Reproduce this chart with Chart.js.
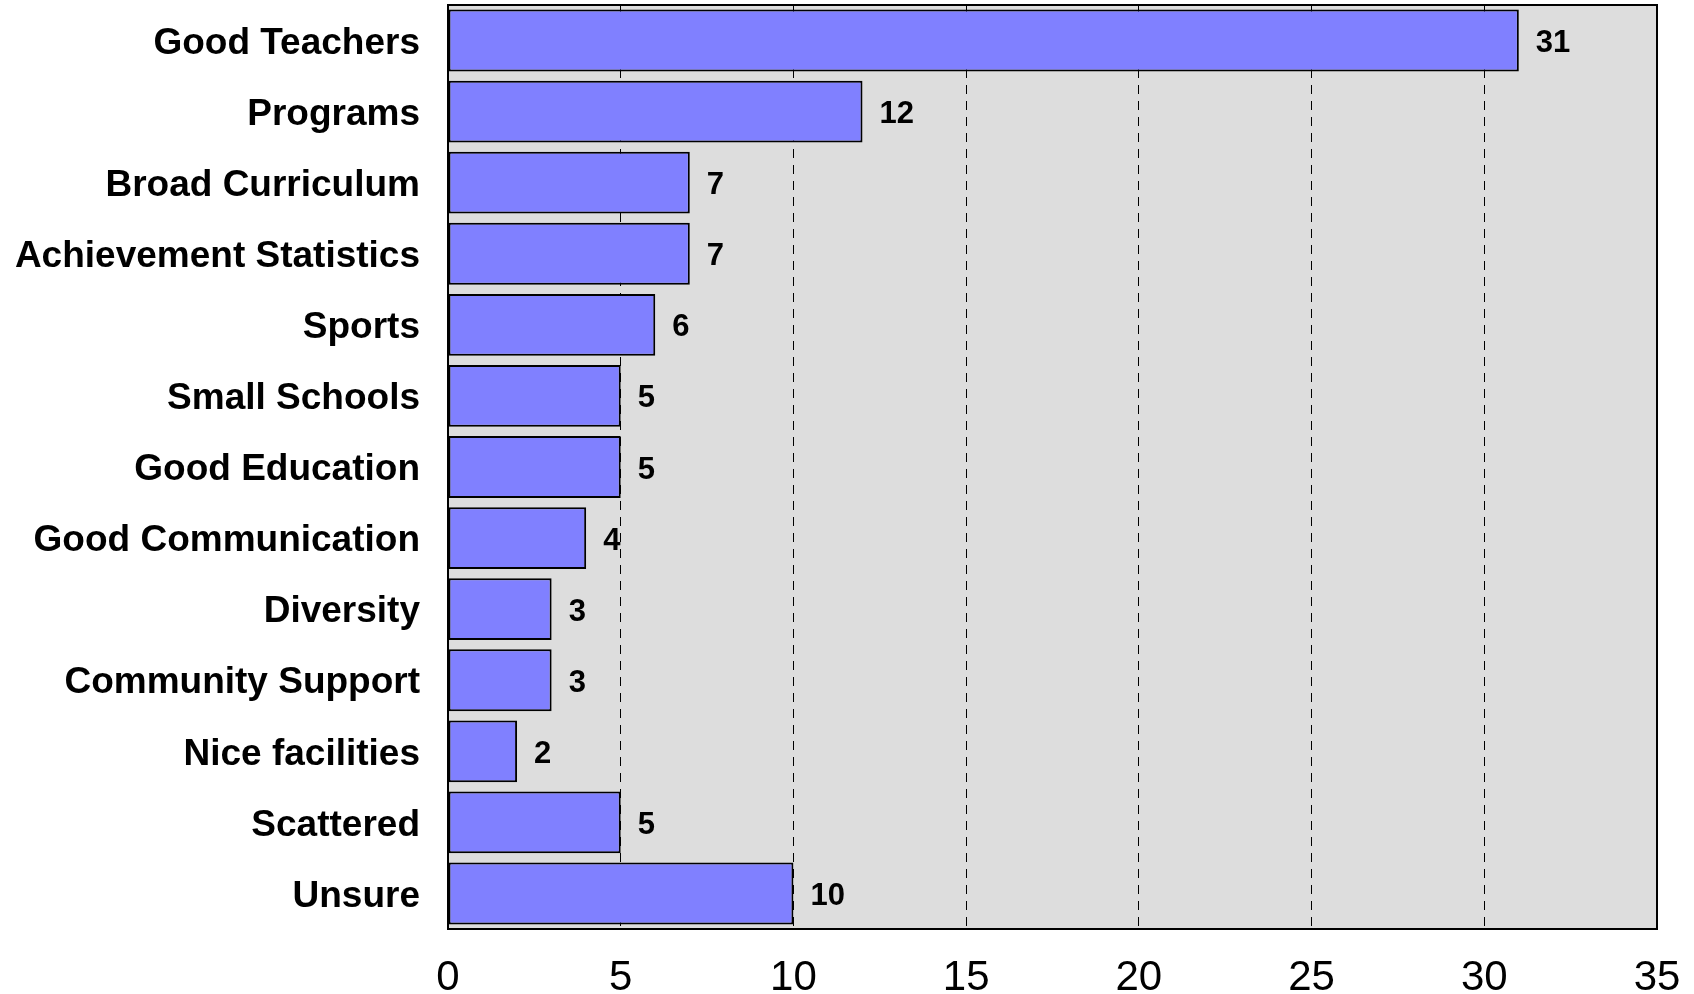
<!DOCTYPE html>
<html>
<head>
<meta charset="utf-8">
<script src="https://cdn.jsdelivr.net/npm/chart.js@4.4.0/dist/chart.umd.min.js"></script>
<style>
  html, body { margin: 0; padding: 0; background: #fff; overflow: hidden; }
  #wrap { width: 1694px; height: 994px; position: relative; }
</style>
</head>
<body>
<div id="wrap"><canvas id="bar-chart"></canvas></div>
<script>
const categories = [
  "Good Teachers", "Programs", "Broad Curriculum", "Achievement Statistics",
  "Sports", "Small Schools", "Good Education", "Good Communication",
  "Diversity", "Community Support", "Nice facilities", "Scattered", "Unsure"
];
const counts = [31, 12, 7, 7, 6, 5, 5, 4, 3, 3, 2, 5, 10];
const xTicks = [0, 5, 10, 15, 20, 25, 30, 35];

const FONT = "'Liberation Sans', Arial, Helvetica, sans-serif";

// grey plot background + black frame + value labels
const plotDecor = {
  id: "plotDecor",
  beforeDraw(chart) {
    const { ctx, chartArea: a } = chart;
    ctx.save();
    ctx.fillStyle = "#dddddd";
    ctx.fillRect(a.left, a.top, a.right - a.left, a.bottom - a.top);
    ctx.restore();
  },
  afterDatasetsDraw(chart) {
    const { ctx, chartArea: a } = chart;
    const meta = chart.getDatasetMeta(0);
    ctx.save();
    ctx.font = "bold 31px " + FONT;
    ctx.fillStyle = "#000";
    ctx.textAlign = "left";
    ctx.textBaseline = "middle";
    meta.data.forEach((bar, i) => {
      ctx.fillText(String(counts[i]), bar.x + 17, bar.y + 3);
    });
    ctx.lineWidth = 2;
    ctx.strokeStyle = "#000";
    ctx.strokeRect(a.left, a.top, a.right - a.left, a.bottom - a.top);
    ctx.restore();
  }
};

const ctx = document.getElementById("bar-chart").getContext("2d");
new Chart(ctx, {
  type: "bar",
  data: {
    labels: categories,
    datasets: [{
      data: counts,
      backgroundColor: "#8080ff",
      borderColor: "#000000",
      borderWidth: 2,
      borderSkipped: false,
      categoryPercentage: 1.0,
      barPercentage: 0.87
    }]
  },
  plugins: [plotDecor],
  options: {
    indexAxis: "y",
    responsive: true,
    maintainAspectRatio: false,
    animation: false,
    layout: { padding: { top: 5, right: 37, left: 0, bottom: 0 } },
    plugins: {
      legend: { display: false },
      tooltip: { enabled: false },
      title: { display: false }
    },
    scales: {
      x: {
        min: 0,
        max: 35,
        afterBuildTicks(scale) {
          scale.ticks = xTicks.map(v => ({ value: v }));
        },
        afterFit(scale) {
          scale.height = 65;
          scale.paddingLeft = 0;
          scale.paddingRight = 0;
        },
        border: { display: false, dash: [9, 7] },
        grid: {
          drawTicks: false,
          lineWidth: 1,
          color: c => (c.tick && (c.tick.value === 0 || c.tick.value === 35)) ? "rgba(0,0,0,0)" : "#000"
        },
        ticks: {
          color: "#000",
          padding: 24,
          maxRotation: 0,
          font: { family: FONT, size: 42 }
        }
      },
      y: {
        afterFit(scale) {
          scale.width = 448;
          scale.paddingTop = 0;
          scale.paddingBottom = 0;
        },
        border: { display: false },
        grid: { display: false, drawTicks: false },
        ticks: {
          color: "#000",
          padding: 28,
          labelOffset: 3,
          autoSkip: false,
          font: { family: FONT, size: 37, weight: "bold" }
        }
      }
    }
  }
});
</script>
</body>
</html>
